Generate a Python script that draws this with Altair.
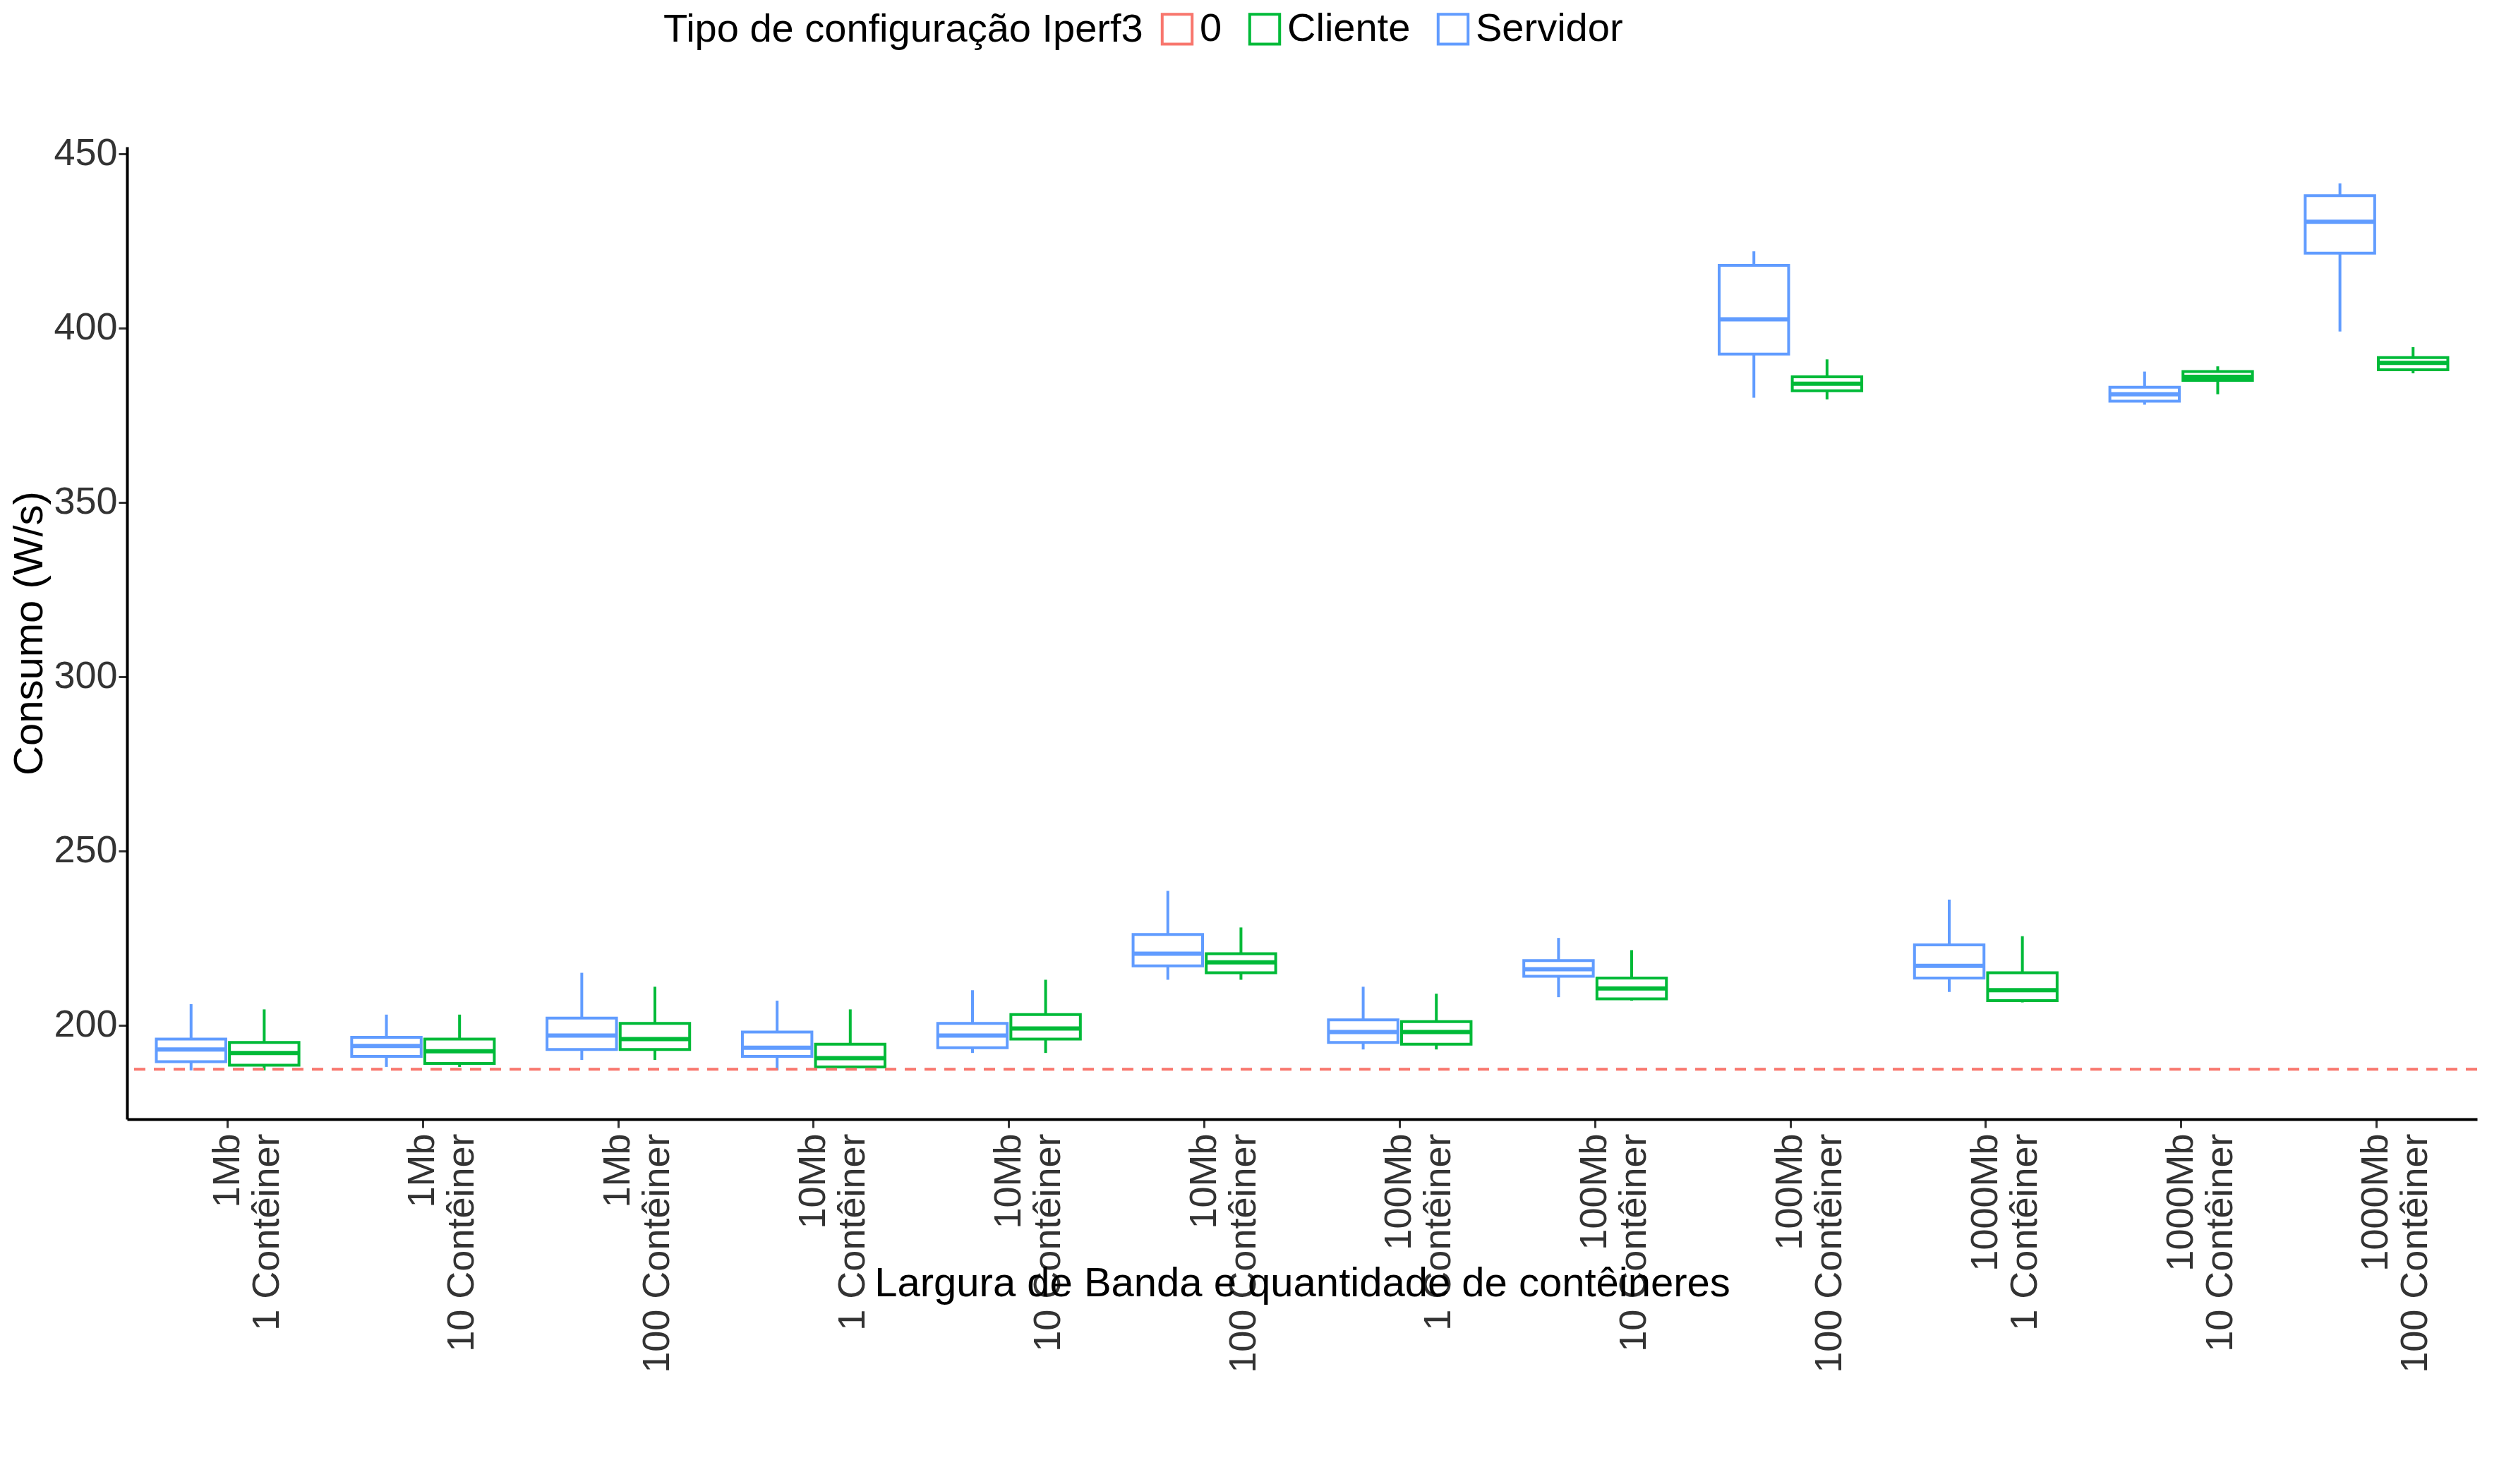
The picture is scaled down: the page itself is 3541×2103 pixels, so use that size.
import altair as alt
import pandas as pd

groups = ["1Mb\n1 Contêiner","1Mb\n10 Contêiner","1Mb\n100 Contêiner",
          "10Mb\n1 Contêiner","10Mb\n10 Contêiner","10Mb\n100 Contêiner",
          "100Mb\n1 Contêiner","100Mb\n10 Contêiner","100Mb\n100 Contêiner",
          "1000Mb\n1 Contêiner","1000Mb\n10 Contêiner","1000Mb\n100 Contêiner"]
# min, q1, median, q3, max
servidor = [(187,189.5,193,196,206),(188,191,194,196.5,203),(190,193,197,202,215),
            (187,191,193.5,198,207),(192,193.5,197,200.5,210),(213,217,220.5,226,238.5),
            (193,195,198,201.5,211),(208,214,216,218.5,225),(380,392.5,402.5,418,422),
            (209.5,213.5,217,223,236),(378,379,381,383,387.5),(399,421.5,430.5,438,441.5)]
cliente = [(187,188.5,192,195,204.5),(188,189,192.5,196,203),(190,193,196,200.5,211),
           (187,188,190.5,194.5,204.5),(192,196,199,203,213),(213,215,218,220.5,228),
           (193,194.5,198,201,209),(207,207.5,210.5,213.5,221.5),(379.5,382,384,386,391),
           (206.5,207,210,215,225.5),(381,385,386,387.5,389),(387,388,390,391.5,394.5)]
baseline = 187.3

rows = []
for g, s, c in zip(groups, servidor, cliente):
    for name, v in (("Servidor", s), ("Cliente", c)):
        rows.append(dict(g=g, tipo=name, lo=v[0], q1=v[1], med=v[2], q3=v[3], hi=v[4]))
df = pd.DataFrame(rows)

cscale = alt.Scale(domain=["0","Cliente","Servidor"], range=["#F8766D","#00BA38","#619CFF"])
stroke = alt.Stroke("tipo:N", title="Tipo de configuração Iperf3", scale=cscale,
                    legend=alt.Legend(orient="none", legendX=760, legendY=-195,
                                      direction="horizontal", titleOrient="left",
                                      symbolType="square", symbolSize=1800, symbolStrokeWidth=4,
                                      symbolFillColor="white", titleFontSize=56, labelFontSize=56,
                                      titleFontWeight="normal", titleColor="black",
                                      labelColor="black", columnPadding=30, labelLimit=0,
                                      titleLimit=0, titlePadding=20))
x = alt.X("g:N", sort=groups, title="Largura de Banda e quantidade de contêineres",
          scale=alt.Scale(paddingInner=0.27, paddingOuter=0.15),
          axis=alt.Axis(labelAngle=-90, labelExpr="split(datum.label, '\\n')",
                        labelFontSize=54, titleFontSize=58, labelColor="#333333",
                        titleColor="black", titleFontWeight="normal", tickSize=12,
                        tickWidth=3, labelPadding=8, labelAlign="right", labelBaseline="middle",
                        labelLineHeight=56, labelLimit=0))
y_scale = alt.Scale(domain=[173, 452], nice=False, zero=False)
xo = alt.XOffset("tipo:N", scale=alt.Scale(domain=["Servidor","Cliente"], paddingInner=0.05))

base = alt.Chart(df).encode(x=x, xOffset=xo, stroke=stroke)
w1 = base.mark_rule(strokeWidth=4).encode(
    y=alt.Y("lo:Q", scale=y_scale, title="Consumo (W/s)",
            axis=alt.Axis(values=[200,250,300,350,400,450], grid=False, labelFontSize=54,
                          titleFontSize=58, labelColor="#333333", titleColor="black",
                          titleFontWeight="normal", tickSize=12, tickWidth=3)),
    y2="q1:Q")
w2 = base.mark_rule(strokeWidth=4).encode(y="q3:Q", y2="hi:Q")
box = base.mark_bar(fill="white", strokeWidth=4).encode(y="q1:Q", y2="q3:Q")
med = base.mark_bar(fill="white", strokeWidth=6).encode(y="med:Q", y2="med:Q")
line = alt.Chart(pd.DataFrame({"v":[baseline],"tipo":["0"]})).mark_rule(
    strokeDash=[16,12], strokeWidth=4).encode(y="v:Q", stroke=stroke)

chart = alt.layer(w1, w2, box, med, line).properties(
    width=3330, height=1378, background="white"
).configure_view(stroke=None).configure_axis(
    domainColor="black", domainWidth=4, tickColor="#333333", labelFont="Liberation Sans",
    titleFont="Liberation Sans").configure_legend(labelFont="Liberation Sans", titleFont="Liberation Sans")

chart.save("out.html", embed_options={"renderer": "svg", "actions": False})
